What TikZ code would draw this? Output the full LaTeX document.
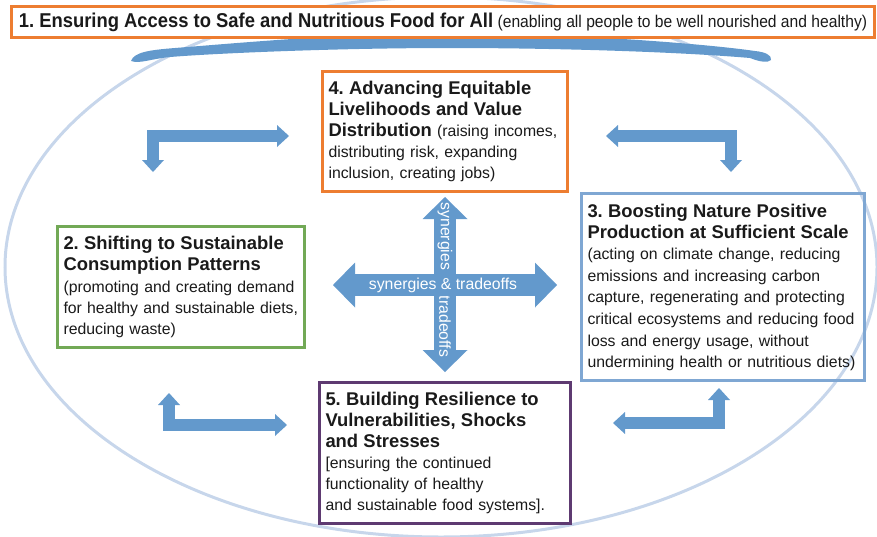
\documentclass[tikz,border=0pt]{standalone}
\usepackage{fontspec}
\setmainfont{Liberation Sans}
\newfontfamily\narrowsans[FakeStretch=0.92]{Liberation Sans}
\usetikzlibrary{arrows.meta}
\frenchspacing
\definecolor{boxorange}{RGB}{237,125,49}
\definecolor{boxgreen}{RGB}{114,169,86}
\definecolor{boxblue}{RGB}{127,167,211}
\definecolor{boxpurple}{RGB}{94,58,113}
\definecolor{arrowblue}{RGB}{99,153,204}
\definecolor{ringblue}{RGB}{199,214,235}
\definecolor{ink}{RGB}{26,26,26}
\newcommand{\headfont}{\fontsize{18.4}{21}\selectfont\bfseries}
\newcommand{\bodyfont}{\fontsize{15.8}{21}\selectfont}
\tikzstyle{framebox} = [draw,line width=3pt,fill=white,anchor=north west,align=left,inner xsep=6pt,inner ysep=0pt,text=ink,font=\bodyfont]
\tikzstyle{ringline} = [draw=ringblue,line width=3pt]
\tikzstyle{bentarrow} = [draw=arrowblue,line width=12pt,line join=miter,{Triangle[width=22pt,length=12pt,line width=0pt]}-{Triangle[width=22pt,length=12pt,line width=0pt]}]
\tikzstyle{crossarrow} = [draw=arrowblue,line width=22pt,{Triangle[width=45pt,length=22pt,line width=0pt]}-{Triangle[width=45pt,length=22pt,line width=0pt]}]
\tikzstyle{flowtext} = [text=white,font=\bodyfont,inner sep=0pt]

\begin{document}
\begin{tikzpicture}[x=1pt,y=-1pt]
    \useasboundingbox (0,0) rectangle (877,536);

    % outer ring
    \draw[ringline] (441,267) ellipse [x radius=436,y radius=270];

    % curved band along the top
    \fill[arrowblue] (131,61) .. controls (134,52) and (150,50) .. (175,48)
        .. controls (250,42) and (350,33) .. (450,33)
        .. controls (560,33) and (700,43) .. (755,51)
        .. controls (765,52) and (772,55) .. (771,60)
        .. controls (768,63) and (760,62) .. (750,58)
        .. controls (680,52) and (560,48) .. (450,48)
        .. controls (340,48) and (220,53) .. (170,57)
        .. controls (150,59) and (140,64) .. (131,61) -- cycle;

    % boxes
    \node[framebox,draw=boxorange,align=center,inner xsep=0pt,minimum width=863pt,minimum height=31pt] (b1) at (10,5)
        {{\narrowsans\fontsize{20}{22}\selectfont\bfseries 1. Ensuring Access to Safe and Nutritious Food for All} {\narrowsans\fontsize{17}{22}\selectfont (enabling all people to be well nourished and healthy)}};
    \node[framebox,draw=boxorange,text width=233pt,minimum height=120pt] (b4) at (321,70)
        {{\headfont 4. Advancing Equitable\\ Livelihoods and Value\\ Distribution} (raising incomes,\\ distributing risk, expanding\\ inclusion, creating jobs)};
    \node[framebox,draw=boxgreen,text width=235pt,minimum height=121pt] (b2) at (56,225)
        {{\headfont 2. Shifting to Sustainable\\ Consumption Patterns}\\[1pt] (promoting and creating demand\\ for healthy and sustainable diets,\\ reducing waste)};
    \node[framebox,draw=boxblue,fill=none,text width=271pt,minimum height=187pt] (b3) at (580,192)
        {{\headfont 3. Boosting Nature Positive\\ Production at Sufficient Scale}\\ \fontsize{15.8}{21.6}\selectfont (acting on climate change, reducing\\ emissions and increasing carbon\\ capture, regenerating and protecting\\ critical ecosystems and reducing food\\ loss and energy usage, without\\ undermining health or nutritious diets)};
    \node[framebox,draw=boxpurple,text width=239pt,minimum height=141pt] (b5) at (318,381)
        {{\headfont 5. Building Resilience to\\ Vulnerabilities, Shocks\\ and Stresses}\\ {[}ensuring the continued\\ functionality of healthy\\ and sustainable food systems{]}.};

    % synergies and tradeoffs
    \draw[crossarrow,shorten <=4pt,shorten >=9pt] (b4.south) -- (b5.north)
        node[pos=0.23,flowtext,rotate=-90] {synergies}
        node[pos=0.71,flowtext,rotate=-90] {tradeoffs};
    \draw[crossarrow,shorten <=27pt,shorten >=23pt] ([yshift=2pt]b2.east) -- ([yshift=2pt]b3.west)
        node[midway,flowtext] {synergies \& tradeoffs};

    % corner arrows
    \coordinate (tl1) at (153,172);
    \coordinate (tl2) at (289,136);
    \coordinate (tr1) at (606,136);
    \coordinate (tr2) at (731,172);
    \coordinate (bl1) at (169,393);
    \coordinate (bl2) at (287,425);
    \coordinate (br1) at (613,423);
    \coordinate (br2) at (719,388);
    \draw[bentarrow] (tl1) |- (tl2);
    \draw[bentarrow] (tr1) -| (tr2);
    \draw[bentarrow] (bl1) |- (bl2);
    \draw[bentarrow] (br1) -| (br2);
\end{tikzpicture}
\end{document}
